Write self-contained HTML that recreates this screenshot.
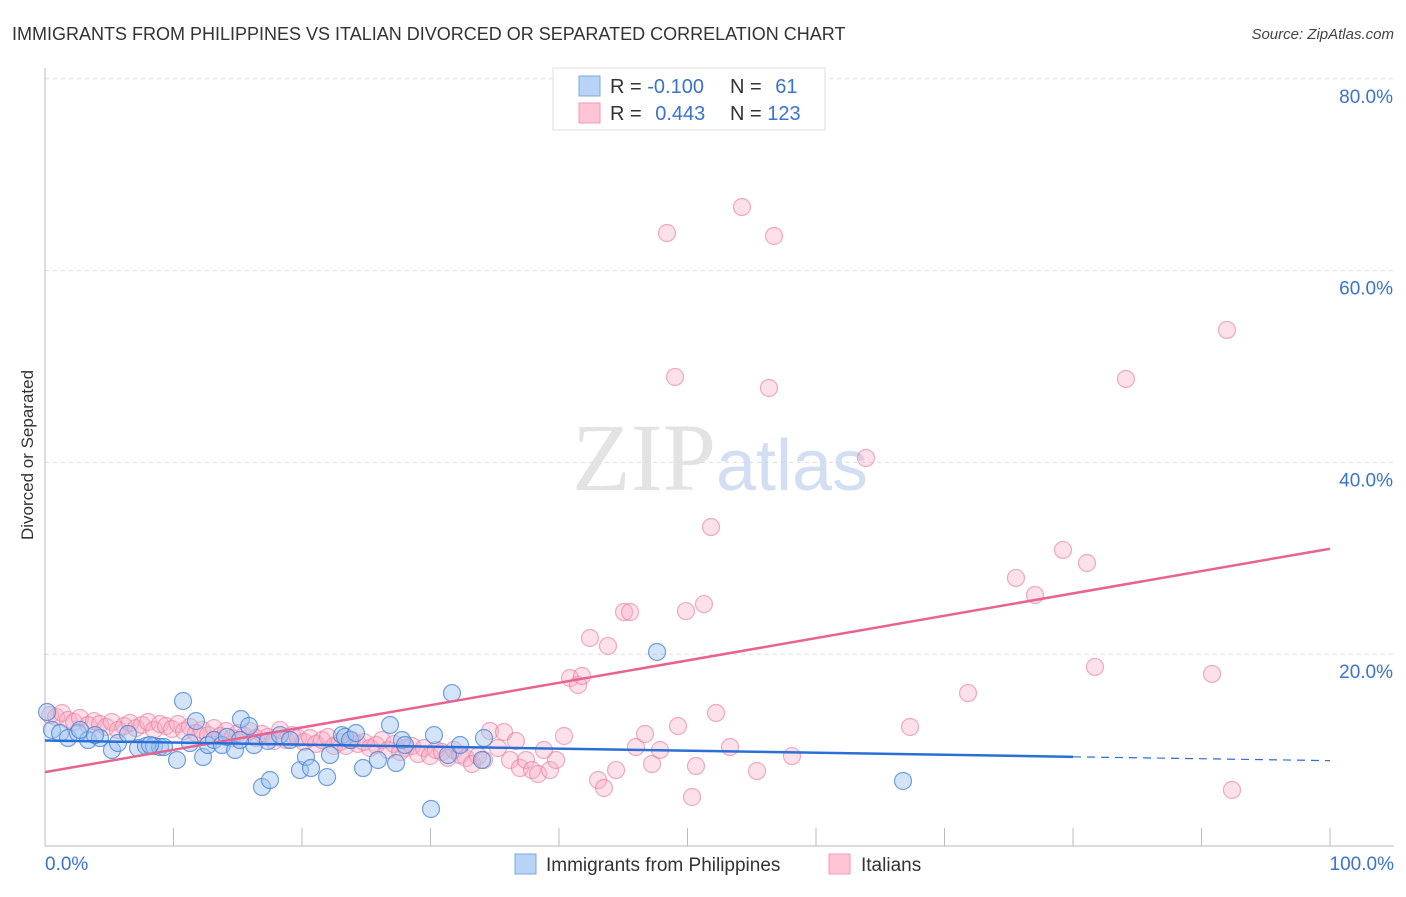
<!DOCTYPE html>
<html><head><meta charset="utf-8"><style>
body{margin:0;background:#fff;font-family:"Liberation Sans",sans-serif;}
svg text{font-family:"Liberation Sans",sans-serif;}
</style></head><body>
<svg id="chart" width="1406" height="892" viewBox="0 0 1406 892" xmlns="http://www.w3.org/2000/svg">
<text x="12" y="40" font-size="18" fill="#333">IMMIGRANTS FROM PHILIPPINES VS ITALIAN DIVORCED OR SEPARATED CORRELATION CHART</text>
<text x="1394" y="39" font-size="15" fill="#444" text-anchor="end" font-style="italic">Source: ZipAtlas.com</text>
<g id="grid"></g>
<text x="720" y="490" font-size="96" text-anchor="middle" font-family="Liberation Serif" fill="#ddd" opacity="0.8"><tspan font-family="Liberation Serif">ZIP</tspan><tspan fill="#c8d8f0" font-family="Liberation Sans" font-size="72">atlas</tspan></text>
<g id="axes"></g>
<g id="pink"></g>
<g id="blue"></g>
<g id="trends"></g>
<text transform="translate(33,455) rotate(-90)" font-size="17" fill="#333" text-anchor="middle">Divorced or Separated</text>
<g>
<rect x="553" y="68" width="272" height="62" fill="#fff" stroke="#ddd"/>
<rect x="579" y="76" width="21" height="20" fill="#b8d3f5" stroke="#7aa8e0"/>
<rect x="579" y="103" width="21" height="20" fill="#fcc4d4" stroke="#f09ab4"/>
<text x="610" y="93" font-size="20" fill="#333">R = <tspan fill="#3a73cc">-0.100</tspan></text>
<text x="730" y="93" font-size="20" fill="#333">N = <tspan fill="#3a73cc" dx="8">61</tspan></text>
<text x="610" y="120" font-size="20" fill="#333">R = <tspan fill="#3a73cc" dx="8">0.443</tspan></text>
<text x="730" y="120" font-size="20" fill="#333">N = <tspan fill="#3a73cc">123</tspan></text>
</g>
<g>
<rect x="515" y="854" width="21" height="20" fill="#b8d3f5" stroke="#7aa8e0"/>
<text x="546" y="871" font-size="19" fill="#333">Immigrants from Philippines</text>
<rect x="829" y="854" width="21" height="20" fill="#fcc4d4" stroke="#f09ab4"/>
<text x="861" y="871" font-size="19" fill="#333">Italians</text>
</g>
</svg>
<script>
const NS="http://www.w3.org/2000/svg";
const yTicks=[20,40,60,80];
const yTickLabels=["20.0%","40.0%","60.0%","80.0%"];
const xTicks=[0,10,20,30,40,50,60,70,80,90,100];
const xTickLabels=["0.0%","100.0%"];
const bluePx=[[47,712],[52,730],[60,733],[68,738],[78,733],[88,740],[100,738],[112,750],[118,743],[128,734],[138,748],[146,746],[154,746],[160,747],[164,747],[177,760],[183,701],[190,743],[196,721],[203,757],[208,745],[214,740],[222,745],[227,737],[235,750],[241,719],[249,726],[254,745],[262,787],[270,780],[268,741],[280,735],[290,740],[300,770],[306,757],[311,768],[327,777],[330,755],[342,735],[345,737],[350,740],[356,733],[363,768],[378,760],[390,725],[396,763],[402,740],[405,745],[431,809],[434,735],[448,755],[452,693],[460,745],[482,760],[484,738],[657,652],[903,781],[80,730],[95,735],[150,745],[240,740]];
const pinkPx=[[50,715],[56,717],[62,713],[68,720],[74,722],[80,718],[88,725],[94,721],[100,724],[106,727],[112,722],[118,730],[124,726],[130,723],[136,728],[142,725],[148,722],[154,730],[160,724],[166,726],[172,729],[178,724],[184,731],[190,727],[196,733],[202,730],[208,735],[214,728],[220,736],[226,731],[232,738],[238,733],[244,736],[250,731],[256,738],[262,734],[268,737],[274,741],[280,730],[286,740],[292,735],[298,738],[304,742],[310,738],[316,744],[322,740],[328,737],[334,746],[340,742],[346,746],[352,740],[358,744],[364,742],[370,748],[376,745],[382,740],[388,750],[394,744],[400,752],[406,748],[412,746],[418,754],[424,748],[430,756],[436,750],[442,752],[448,758],[454,750],[460,755],[466,758],[472,764],[478,756],[484,760],[490,731],[498,748],[504,732],[510,760],[516,741],[520,768],[526,760],[532,770],[538,774],[544,750],[550,770],[556,760],[564,736],[570,678],[578,685],[582,676],[590,638],[598,780],[604,788],[608,646],[616,770],[624,612],[630,612],[636,747],[645,734],[652,764],[660,750],[667,233],[675,377],[678,726],[686,611],[692,797],[696,766],[704,604],[711,527],[716,713],[730,747],[742,207],[757,771],[769,388],[774,236],[792,756],[866,458],[910,727],[968,693],[1016,578],[1035,595],[1063,550],[1087,563],[1095,667],[1126,379],[1212,674],[1227,330],[1232,790]];
// convert pixel readings to data values (%)
const blueX=bluePx.map(p=>+((p[0]-45)/12.85).toFixed(2));
const blueY=bluePx.map(p=>+((846-p[1])/9.59).toFixed(2));
const pinkX=pinkPx.map(p=>+((p[0]-45)/12.85).toFixed(2));
const pinkY=pinkPx.map(p=>+((846-p[1])/9.59).toFixed(2));
const pinkTrend=[[0,7.7],[100,31.0]];
const blueTrend=[[0,11.0],[80,9.3],[100,8.9]];
function sx(v){return 45+v*12.85;}
function sy(v){return 846-v*9.59;}
function mk(tag,attrs,parent){const e=document.createElementNS(NS,tag);for(const k in attrs)e.setAttribute(k,attrs[k]);parent.appendChild(e);return e;}
const grid=document.getElementById('grid'),axes=document.getElementById('axes');
yTicks.forEach((t,i)=>{
 const l=mk('line',{x1:45,x2:1394,y1:sy(t),y2:sy(t),stroke:'#ddd','stroke-dasharray':'4,4'},grid);
 
 
 const tx=mk('text',{x:1393,y:sy(t)+24,'font-size':19,fill:'#3a73cc','text-anchor':'end'},axes);
 tx.textContent=yTickLabels[i];
 
 
});
const ax=mk('line',{x1:45,x2:45,y1:68,y2:846,stroke:'#bbb'},axes);


const bx=mk('line',{x1:45,x2:1394,y1:846,y2:846,stroke:'#bbb'},axes);


xTicks.forEach(t=>{
 const l=mk('line',{x1:sx(t),x2:sx(t),y1:828,y2:846,stroke:'#bbb'},axes);
 
 
});
const xl0=mk('text',{x:45,y:870,'font-size':19,fill:'#3a73cc'},axes);xl0.textContent=xTickLabels[0];


const xl1=mk('text',{x:1394,y:870,'font-size':19,fill:'#3a73cc','text-anchor':'end'},axes);xl1.textContent=xTickLabels[1];


const pg=document.getElementById('pink');
pinkX.forEach((x,i)=>{
 const c=mk('circle',{cx:sx(x),cy:sy(pinkY[i]),r:8.5,fill:'rgba(248,170,195,0.35)',stroke:'rgba(230,120,155,0.6)','stroke-width':1.2},pg);
 
 
});
const bg=document.getElementById('blue');
blueX.forEach((x,i)=>{
 const c=mk('circle',{cx:sx(x),cy:sy(blueY[i]),r:8.5,fill:'rgba(160,195,240,0.45)',stroke:'rgba(70,130,215,0.75)','stroke-width':1.2},bg);
 
 
});
const tg=document.getElementById('trends');
const pt=mk('line',{x1:sx(pinkTrend[0][0]),y1:sy(pinkTrend[0][1]),x2:sx(pinkTrend[1][0]),y2:sy(pinkTrend[1][1]),stroke:'#e8638f','stroke-width':2.5},tg);


const b1=mk('line',{x1:sx(blueTrend[0][0]),y1:sy(blueTrend[0][1]),x2:sx(blueTrend[1][0]),y2:sy(blueTrend[1][1]),stroke:'#2a6fd6','stroke-width':2.5},tg);


const b2=mk('line',{x1:sx(blueTrend[1][0]),y1:sy(blueTrend[1][1]),x2:sx(blueTrend[2][0]),y2:sy(blueTrend[2][1]),stroke:'#2a6fd6','stroke-width':1.2,'stroke-dasharray':'8,6'},tg);


</script>
</body></html>
